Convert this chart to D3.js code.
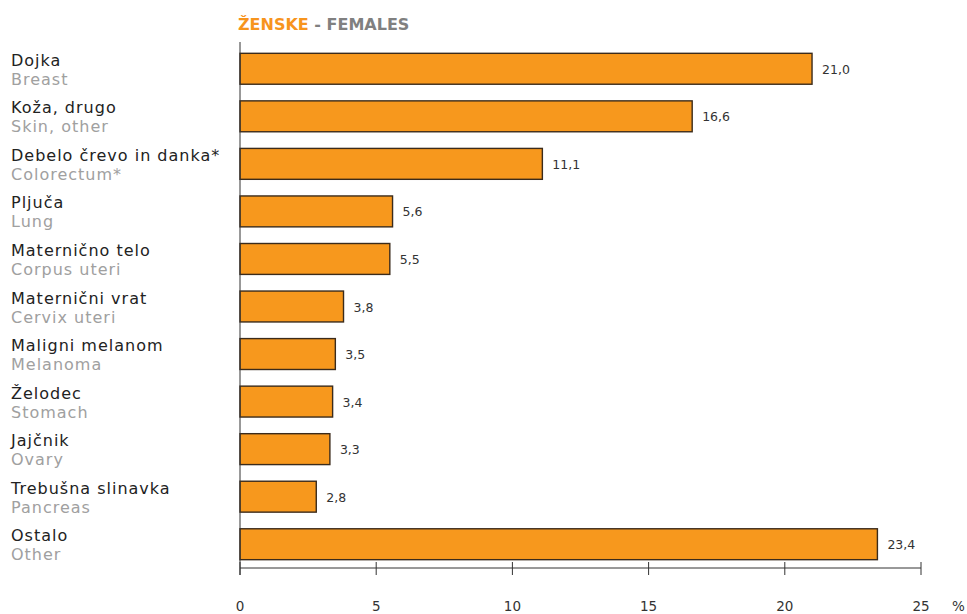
<!DOCTYPE html>
<html><head><meta charset="utf-8">
<script src="https://cdn.jsdelivr.net/npm/d3@7"></script>
<style>body{margin:0;background:#fff}svg{display:block}text{font-family:"DejaVu Sans",sans-serif}</style>
</head><body><svg id="c" width="967" height="614"></svg>
<script>
const categoriesSl = ["Dojka","Koža, drugo","Debelo črevo in danka*","Pljuča","Maternično telo","Maternični vrat","Maligni melanom","Želodec","Jajčnik","Trebušna slinavka","Ostalo"];
const categoriesEn = ["Breast","Skin, other","Colorectum*","Lung","Corpus uteri","Cervix uteri","Melanoma","Stomach","Ovary","Pancreas","Other"];
const values = [21.0,16.6,11.1,5.6,5.5,3.8,3.5,3.4,3.3,2.8,23.4];
const ticks = [0,5,10,15,20,25];

const svg = d3.select("#c");
const x = d3.scaleLinear().domain([0,25]).range([240,921]);
const y = d3.scaleBand().domain(d3.range(values.length)).range([45,568]).paddingInner(0.35).paddingOuter(0.175);

// title
const t = svg.append("text").attr("x",238).attr("y",30).attr("font-size",16).attr("font-weight",700);
t.append("tspan").attr("fill","#F7941D").text("ŽENSKE");
t.append("tspan").attr("fill","#808080").text(" - FEMALES");

// bars
svg.selectAll("rect.bar").data(values).join("rect").attr("class","bar")
  .attr("x",x(0)).attr("y",(d,i)=>y(i)).attr("width",d=>x(d)-x(0)).attr("height",y.bandwidth())
  .attr("fill","#F7981D").attr("stroke","#3b2b1b").attr("stroke-width",1.4);

svg.selectAll("text.val").data(values).join("text").attr("class","val")
  .attr("x",d=>x(d)+10).attr("y",(d,i)=>y(i)+y.bandwidth()/2+5)
  .attr("font-size",12.5).attr("fill","#333").text(d=>d.toFixed(1).replace(".",","));

// category labels
const g = svg.selectAll("g.lab").data(categoriesSl).join("g").attr("class","lab");
g.append("text").attr("x",11).attr("y",(d,i)=>y(i)+y.bandwidth()/2-3).attr("font-size",16).attr("letter-spacing",1).attr("fill","#222").text(d=>d);
g.append("text").attr("x",11).attr("y",(d,i)=>y(i)+y.bandwidth()/2+16).attr("font-size",16).attr("letter-spacing",1).attr("fill","#a0a0a0").text((d,i)=>categoriesEn[i]);

// vertical axis line
svg.append("line").attr("x1",240).attr("x2",240).attr("y1",42).attr("y2",575).attr("stroke","#333").attr("stroke-width",1);

// x axis
const ax = svg.append("g").attr("transform","translate(0,568)");
ax.append("line").attr("x1",x(0)).attr("x2",x(25)).attr("stroke","#333");
ax.selectAll("line.tk").data(ticks).join("line").attr("class","tk").attr("x1",d=>x(d)).attr("x2",d=>x(d)).attr("y1",-6).attr("y2",7).attr("stroke","#333");
ax.selectAll("text").data(ticks).join("text").attr("x",d=>x(d)).attr("y",43).attr("text-anchor","middle").attr("font-size",13.5).attr("fill","#333").text(d=>d);
svg.append("text").attr("x",952).attr("y",611).attr("font-size",13.5).attr("fill","#333").text("%");
</script></body></html>
